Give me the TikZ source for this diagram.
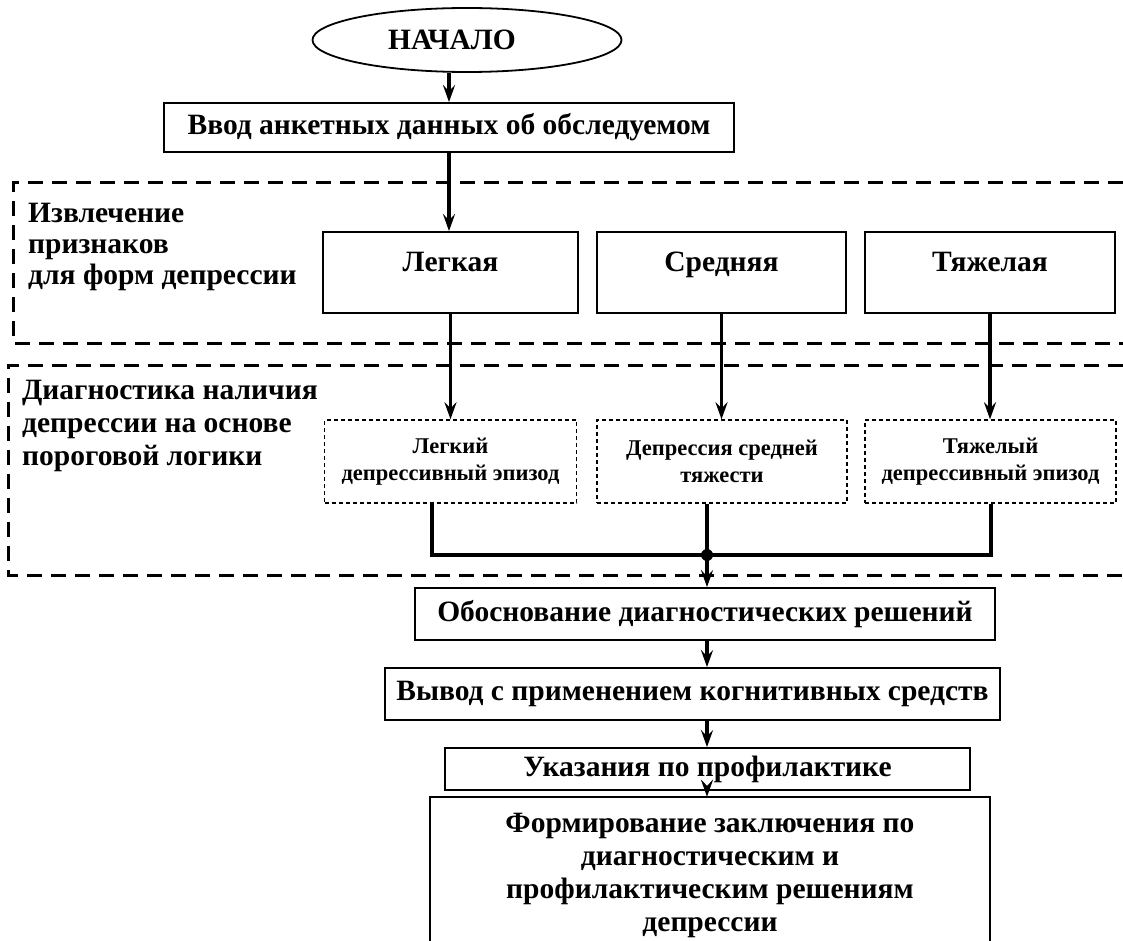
\documentclass[tikz,border=0pt]{standalone}
\usepackage{fontspec}
\setmainfont{Liberation Serif}
\usetikzlibrary{shapes.geometric,arrows.meta}
\begin{document}
\begin{tikzpicture}[x=1pt,y=-1pt,
  bigfont/.style={font=\bfseries\fontsize{29.5}{31}\selectfont},
  smallfont/.style={font=\bfseries\fontsize{22.5}{27}\selectfont},
  box/.style={draw, line width=1.8pt, inner sep=0pt, bigfont, align=center},
  dotbox/.style={draw, line width=1.4pt, dash pattern=on 4pt off 3pt, inner sep=0pt, smallfont, align=center},
  region/.style={line width=3pt, dash pattern=on 15pt off 9pt},
  conn/.style={line width=3.2pt},
  arr/.style={conn, -{Stealth[length=17pt,width=12pt,inset=6pt]}},
  lbl/.style={bigfont, align=left, anchor=north west, inner sep=0pt}
]
\useasboundingbox (0,0) rectangle (1123,941);
\fill[white] (0,0) rectangle (1123,941);

% start
\node[draw, ellipse, line width=1.8pt, minimum width=309pt, minimum height=64pt, inner sep=0pt, bigfont] (start) at (467,40) {\hspace*{-30pt}НАЧАЛО};

\node[box, minimum width=570pt, minimum height=49pt] (input) at (449,127.5) {Ввод анкетных данных об обследуемом};

% regions
\coordinate (r1a) at (1123,183);
\coordinate (r1b) at (13,183);
\coordinate (r1c) at (13,343);
\coordinate (r1d) at (1123,343);
\draw[region] (r1a) -- (r1b) -- (r1c) -- (r1d);
\coordinate (r2a) at (1123,365);
\coordinate (r2b) at (8,365);
\coordinate (r2c) at (8,575);
\coordinate (r2d) at (1123,575);
\draw[region] (r2a) -- (r2b) -- (r2c) -- (r2d);

\node[lbl] (lab1) at (28,203) {Извлечение\\признаков\\для форм депрессии};
\node[lbl, font=\bfseries\fontsize{29.5}{33}\selectfont] (lab2) at (22,380) {Диагностика наличия\\депрессии на основе\\пороговой логики};

% row 1
\node[box, minimum width=255pt, text height=39pt, text depth=42pt] (legk) at (450.5,272.5) {Легкая};
\node[box, minimum width=249pt, text height=39pt, text depth=42pt] (sred) at (721.5,272.5) {Средняя};
\node[box, minimum width=250pt, text height=39pt, text depth=42pt] (tyazh) at (990,272.5) {Тяжелая};

% row 2
\node[dotbox, minimum width=252pt, minimum height=83pt] (lep) at (450.5,461.5) {Легкий\\депрессивный эпизод};
\node[dotbox, minimum width=250pt, minimum height=83pt] (sep) at (722,461.5) {Депрессия средней\\тяжести};
\node[dotbox, minimum width=251pt, minimum height=83pt] (tep) at (990.5,461.5) {Тяжелый\\депрессивный эпизод};

% lower chain
\coordinate (junc) at (707,555);
\coordinate (jl) at (432,555);
\coordinate (jr) at (991,555);
\node[box, minimum width=580pt, minimum height=52pt] (obos) at (705,614) {Обоснование диагностических решений};
\node[box, minimum width=615pt, minimum height=52pt] (vyvod) at (692.5,694) {Вывод с применением когнитивных средств};
\node[box, minimum width=525pt, minimum height=42pt] (ukaz) at (707.5,769) {Указания по профилактике};
\node[minimum width=560pt, minimum height=144pt, inner sep=0pt] (form) at (710,869) {};
\node[align=center, inner sep=0pt, anchor=north, font=\bfseries\fontsize{29.5}{33}\selectfont] (formtxt) at (710,813) {Формирование заключения по\\диагностическим и\\профилактическим решениям\\депрессии};
\draw[line width=1.8pt] (form.south west) -- (form.north west) -- (form.north east) -- (form.south east);

% connectors
\draw[arr] (start.south -| input.north) -- (input.north);
\draw[arr] (input.south) -- (input.south |- legk.north);
\draw[arr] (legk.south) -- (legk.south |- lep.north);
\draw[arr] (sred.south) -- (sred.south |- sep.north);
\draw[arr] (tyazh.south) -- (tyazh.south |- tep.north);
\draw[conn] (lep.south -| jl) -- (jl) -- (jr) -- (tep.south -| jr);
\draw[conn] (sep.south -| junc) -- (junc);
\fill (junc) circle (6pt);
\draw[arr] (junc) -- (obos.north -| junc);
\draw[arr] (obos.south -| junc) -- (vyvod.north -| junc);
\draw[arr] (vyvod.south -| junc) -- (ukaz.north -| junc);
\draw[arr] (ukaz.south -| junc) -- (form.north -| junc);
\end{tikzpicture}
\end{document}
